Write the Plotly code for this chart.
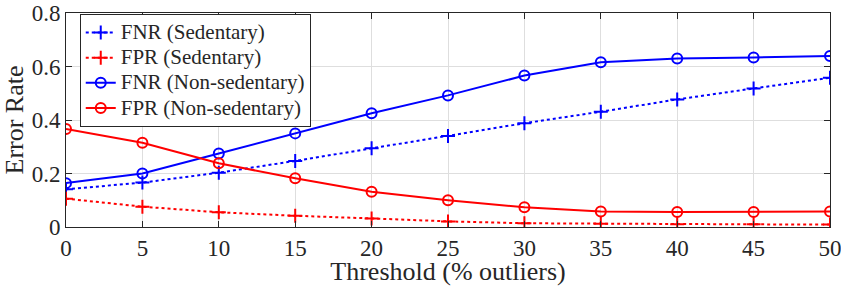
import plotly.graph_objects as go

thresholds = [0, 5, 10, 15, 20, 25, 30, 35, 40, 45, 50]
fnr_sed = [0.141, 0.166, 0.203, 0.247, 0.294, 0.340, 0.388, 0.431, 0.477, 0.518, 0.558]
fpr_sed = [0.106, 0.076, 0.055, 0.042, 0.032, 0.021, 0.014, 0.012, 0.010, 0.010, 0.009]
fnr_non = [0.164, 0.200, 0.275, 0.350, 0.425, 0.492, 0.566, 0.616, 0.630, 0.634, 0.639]
fpr_non = [0.366, 0.315, 0.238, 0.182, 0.132, 0.100, 0.074, 0.058, 0.056, 0.056, 0.058]
y_ticks = [0, 0.2, 0.4, 0.6, 0.8]
y_tick_labels = ["0", "0.2", "0.4", "0.6", "0.8"]
x_ticks = [0, 5, 10, 15, 20, 25, 30, 35, 40, 45, 50]

BLUE = "#0000FF"
RED = "#FF0000"
FONT = "Liberation Serif"

fig = go.Figure()
series = [
    ("FNR (Sedentary)", fnr_sed, BLUE, "dot", "cross-thin-open"),
    ("FPR (Sedentary)", fpr_sed, RED, "dot", "cross-thin-open"),
    ("FNR (Non-sedentary)", fnr_non, BLUE, "solid", "circle-open"),
    ("FPR (Non-sedentary)", fpr_non, RED, "solid", "circle-open"),
]
for name, vals, col, dash, sym in series:
    fig.add_trace(go.Scatter(
        x=thresholds, y=vals, mode="lines+markers",
        name='<span style="font-size:21px">' + name + '</span>',
        line=dict(color=col, width=2, dash=dash),
        marker=dict(symbol=sym, size=10, color=col, line=dict(color=col, width=2)),
    ))

axis_common = dict(
    showline=True, linecolor="#262626", linewidth=1, mirror="ticks",
    ticks="inside", ticklen=6, tickcolor="#262626",
    showgrid=True, gridcolor="#dedede", gridwidth=1, zeroline=False,
    tickfont=dict(family=FONT, size=23, color="#262626"),
    automargin=False, ticklabeloverflow="allow",
)

fig.update_layout(
    width=841, height=286,
    margin=dict(l=66, r=11, t=13, b=59),
    paper_bgcolor="white", plot_bgcolor="white",
    font=dict(family=FONT, color="#262626"),
    xaxis=dict(range=[0, 50], tickvals=x_ticks,
               title=dict(text="Threshold (% outliers)", font=dict(family=FONT, size=26), standoff=2),
               **axis_common),
    yaxis=dict(range=[0, 0.8], tickvals=y_ticks, ticktext=y_tick_labels,
               title=dict(text="Error Rate", font=dict(family=FONT, size=26), standoff=3),
               **axis_common),
    legend=dict(x=0.018, y=0.995, xanchor="left", yanchor="top",
                bgcolor="white", bordercolor="#262626", borderwidth=1,
                font=dict(family=FONT, size=17, color="#262626"),
                tracegroupgap=0, itemwidth=30),
    showlegend=True,
)

fig.write_html("out.html", config={"displayModeBar": False},
               post_script="document.body.style.margin='0';document.body.style.padding='0';")
